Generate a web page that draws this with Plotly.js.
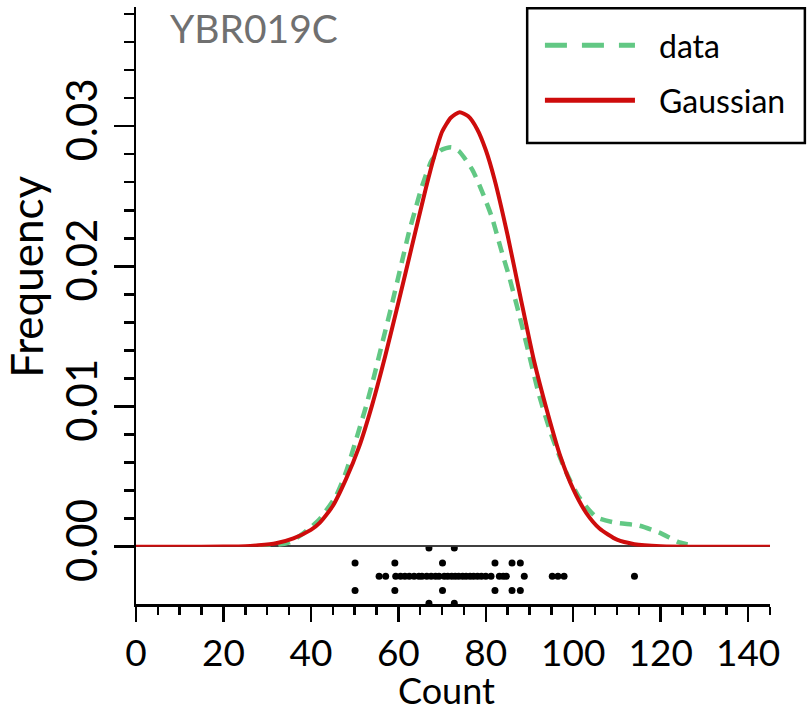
<!DOCTYPE html>
<html>
<head>
<meta charset="utf-8">
<script src="https://cdn.plot.ly/plotly-3.0.1.min.js"></script>
<style>html,body{margin:0;padding:0;background:#fff;}#chart{width:809px;height:714px;}</style>
</head>
<body>
<div id="chart"></div>
<script>
// Gaussian fit curve (Count vs Frequency)
const gaussCount = [0,10,20,25,28,32,36,40,42,45,48,51,54,57,60,63,66,68,70,72,74,76,78,80,82,85,88,91,94,97,100,103,106,110,114,120,130,145];
const gaussFreq  = [0,0,0.00001,0.00003,0.0001,0.00025,0.0006,0.0012,0.0017,0.0029,0.0048,0.0071,0.0101,0.0136,0.0174,0.0213,0.0252,0.0276,0.0296,0.0306,0.0310,0.0307,0.0298,0.0283,0.0262,0.0222,0.0177,0.0133,0.0097,0.0065,0.0041,0.0024,0.0013,0.0005,0.00018,0.00004,0,0];

// Data density curve
const dataCount = [28,32,35,38,41.8,45.7,48.0,50.3,52.6,54.4,56.3,58.3,60.8,62.4,64.1,65.4,67.7,69.8,72.1,73.9,76.9,79.2,81.4,83.5,85.4,87.6,89.9,92.2,95.2,98.4,101.4,105.3,109.9,115.1,119.7,124.3,127.3];
const dataFreq  = [0,0.0001,0.0003,0.0009,0.0019,0.0036,0.0053,0.0076,0.0100,0.0121,0.0145,0.0170,0.0203,0.0224,0.0243,0.0257,0.0276,0.0283,0.0285,0.0282,0.0269,0.0253,0.0235,0.0212,0.0192,0.0166,0.0137,0.0108,0.0078,0.0053,0.0035,0.0021,0.0017,0.0015,0.0010,0.0003,0.0001];

// Individual observations (rug), with their jitter offsets
const rugCount = [55.6,57.1,59.4,60.5,61.5,62.5,63.6,64.7,65.4,66.5,67.5,68.5,69.3,70.5,71.3,72.2,73.0,73.8,74.7,75.5,76.4,77.2,78.1,79.0,80.0,81.2,83.1,84.0,84.7,88.8,95.2,96.5,97.9,114.0,
                  50.1,59.2,70.1,82.1,86.0,87.9,
                  50.1,59.2,70.1,82.1,86.0,87.9,
                  67.0,72.8,
                  67.0,72.8];
const rugJitter = [-0.0021,-0.0021,-0.0021,-0.0021,-0.0021,-0.0021,-0.0021,-0.0021,-0.0021,-0.0021,-0.0021,-0.0021,-0.0021,-0.0021,-0.0021,-0.0021,-0.0021,-0.0021,-0.0021,-0.0021,-0.0021,-0.0021,-0.0021,-0.0021,-0.0021,-0.0021,-0.0021,-0.0021,-0.0021,-0.0021,-0.0021,-0.0021,-0.0021,-0.0021,
                   -0.00116,-0.00116,-0.00116,-0.00116,-0.00116,-0.00116,
                   -0.0031,-0.0031,-0.0031,-0.0031,-0.0031,-0.0031,
                   -0.0001,-0.0001,
                   -0.0040,-0.0040];

const xTicks = [0,20,40,60,80,100,120,140];
const yTicks = [0,0.01,0.02,0.03];
const yTickText = ['0.00','0.01','0.02','0.03'];
const seriesNames = ['data','Gaussian'];
const chartTitle = 'YBR019C';
const xTitle = 'Count';
const yTitle = 'Frequency';

const GREEN = 'rgb(98,200,132)';
const RED = 'rgb(206,12,12)';
const FONT = 'Lato, "Liberation Sans", Arial, sans-serif';

const traces = [
  {x: dataCount, y: dataFreq, xaxis:'x', yaxis:'y', type:'scatter', mode:'lines', name: seriesNames[0],
   line:{color:GREEN, width:4.5, dash:'12px,8px', shape:'spline', smoothing:0.6}, hoverinfo:'skip'},
  {x: gaussCount, y: gaussFreq, xaxis:'x', yaxis:'y', type:'scatter', mode:'lines', name: seriesNames[1],
   line:{color:RED, width:4, shape:'spline', smoothing:0.6}, hoverinfo:'skip'},
  {x: rugCount, y: rugJitter, xaxis:'x', yaxis:'y2', type:'scatter', mode:'markers', name:'points',
   marker:{color:'black', size:7}, hoverinfo:'skip', showlegend:false}
];

const layout = {
  width: 809, height: 714,
  margin: {l:136, r:39, t:7, b:110, pad:0},
  paper_bgcolor:'white', plot_bgcolor:'white',
  showlegend: false,
  font: {family: FONT, color:'black'},
  xaxis: {
    anchor:'y2', range:[0,145], tickmode:'array', tickvals: xTicks,
    ticks:'outside', ticklen:15, tickwidth:2.5, tickcolor:'black',
    showline:true, linecolor:'black', linewidth:2.5, showgrid:false, zeroline:false,
    tickfont:{family:FONT, size:37, color:'black'},
    minor:{tickmode:'linear', tick0:0, dtick:5, ticks:'outside', ticklen:8, tickwidth:2.5, tickcolor:'black', showgrid:false}
  },
  yaxis: {
    domain:[0.096,1], anchor:'x', range:[0,0.0385], tickmode:'array', tickvals:yTicks, ticktext:yTickText,
    tickangle:-90, ticks:'outside', ticklen:20, tickwidth:2.5, tickcolor:'black',
    showline:true, linecolor:'black', linewidth:2.5, showgrid:false, zeroline:false,
    tickfont:{family:FONT, size:42, color:'black'},
    minor:{tickmode:'linear', tick0:0, dtick:0.002, ticks:'outside', ticklen:10, tickwidth:2.5, tickcolor:'black', showgrid:false},
    title:{text:yTitle, font:{family:FONT, size:44, color:'black'}, standoff:4}
  },
  yaxis2: {
    domain:[0,0.096], anchor:'x', range:[-0.00406,0],
    showline:true, linecolor:'black', linewidth:2.5, showgrid:false, zeroline:false,
    ticks:'', showticklabels:false
  },
  shapes: [
    {type:'line', xref:'paper', yref:'y', x0:0, x1:1, y0:0, y1:0, line:{color:'black', width:3}, layer:'below'},
    {type:'rect', xref:'paper', yref:'paper', x0:0.617, x1:1.055, y0:0.772, y1:0.998, line:{color:'black', width:2.5}, fillcolor:'white', layer:'above'},
    {type:'line', xref:'paper', yref:'paper', x0:0.645, x1:0.787, y0:0.936, y1:0.936, line:{color:GREEN, width:5, dash:'22px,15px'}},
    {type:'line', xref:'paper', yref:'paper', x0:0.645, x1:0.787, y0:0.844, y1:0.844, line:{color:RED, width:5}}
  ],
  annotations: [
    {text: chartTitle, xref:'paper', yref:'paper', x:0.05, y:0.965, xanchor:'left', yanchor:'middle', showarrow:false,
     font:{family:FONT, size:39, color:'#707070'}},
    {text: xTitle, xref:'paper', yref:'paper', x:0.49, y:-0.1441, xanchor:'center', yanchor:'middle', showarrow:false,
     font:{family:FONT, size:36, color:'black'}},
    {text: seriesNames[0], xref:'paper', yref:'paper', x:0.822, y:0.936, xanchor:'left', yanchor:'middle', showarrow:false,
     font:{family:FONT, size:32, color:'black'}},
    {text: seriesNames[1], xref:'paper', yref:'paper', x:0.822, y:0.844, xanchor:'left', yanchor:'middle', showarrow:false,
     font:{family:FONT, size:32, color:'black'}}
  ]
};

Plotly.newPlot('chart', traces, layout, {displayModeBar:false, staticPlot:true});
</script>
</body>
</html>
